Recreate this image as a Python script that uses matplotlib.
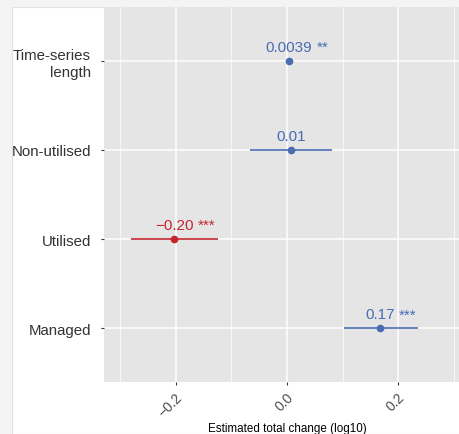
import matplotlib
matplotlib.use("Agg")
import matplotlib.pyplot as plt
import matplotlib.transforms as mtrans
from matplotlib.patches import Rectangle

plt.rcParams['font.family'] = ['Liberation Sans', 'DejaVu Sans']

categories = ["Managed", "Utilised", "Non-utilised", "Time-series\nlength"]
estimates = [0.168, -0.203, 0.007, 0.0039]
ci_low = [0.103, -0.281, -0.067, 0.0030]
ci_high = [0.236, -0.124, 0.081, 0.0048]
value_labels = ["0.17", "\u22120.20", "0.01", "0.0039"]
stars = ["***", "***", "", "**"]
colors = ["#4a6cb3", "#c4262e", "#4a6cb3", "#4a6cb3"]
xticks = [-0.2, 0.0, 0.2]
xticklabels = ["\u22120.2", "0.0", "0.2"]
minor_ticks = [-0.3, -0.1, 0.1, 0.3]

W, H = 460, 435
fig = plt.figure(figsize=(W / 100, H / 100), dpi=100, facecolor="#f4f4f4")
bg = Rectangle((12 / W, 0), 1 - 12 / W, 1 - 8 / H, transform=fig.transFigure,
               facecolor="white", edgecolor="#e2e2e2", linewidth=0.8, zorder=-10)
fig.add_artist(bg)

# panel extends slightly past the right edge (as in the cropped reference)
ax = fig.add_axes([104 / W, (H - 383) / H, (471 - 104) / W, (383 - 8) / H])
ax.set_zorder(5)
ax.set_facecolor("#e5e5e5")
for s in ax.spines.values():
    s.set_visible(False)

ypos = list(range(1, len(categories) + 1))
ax.set_xlim(-0.3297, 0.3315)
ax.set_ylim(0.4, 4.6)

ax.set_xticks(xticks)
ax.set_xticklabels(xticklabels, rotation=45, ha="right", va="top", rotation_mode="anchor",
                   fontsize=10, color="#4d4d4d")
ax.set_xticks(minor_ticks, minor=True)
ax.set_yticks(ypos)
ax.set_yticklabels(categories, fontsize=10.8, color="#333333", multialignment="right",
                   linespacing=1.25)
ax.tick_params(axis="x", which="major", length=2.5, color="#333333", pad=3)
ax.tick_params(axis="x", which="minor", length=0)
ax.tick_params(axis="y", length=2.5, color="#333333", pad=7)
for t in ax.get_xticklabels():
    t.set_transform(t.get_transform() + mtrans.ScaledTranslation(-1 / 100, 0, fig.dpi_scale_trans))

ax.grid(True, which="major", color="white", linewidth=1.1, zorder=1)
ax.grid(True, which="minor", axis="x", color="white", linewidth=0.5, zorder=1)
ax.set_axisbelow(True)

for y, e, lo, hi, lab, st, c in zip(ypos, estimates, ci_low, ci_high, value_labels, stars, colors):
    ax.plot([lo, hi], [y, y], color=c, linewidth=1.2, zorder=3, solid_capstyle="butt")
    ax.plot([e], [y], "o", color=c, markersize=4.5, zorder=4)
    num = ax.annotate(lab, (e, y), xytext=(0, 5), textcoords="offset points",
                      ha="center", va="bottom", fontsize=11, color=c, zorder=5)
    if st:
        ax.annotate(st, xy=(1, 0), xycoords=num, xytext=(3, 0), textcoords="offset points",
                    ha="left", va="bottom", fontsize=11, color=c, zorder=5)

ax.set_xlabel("Estimated total change (log10)", fontsize=8.4, color="black")
ax.xaxis.set_label_coords(0.5, -(423 - 383) / 375)

fig.savefig("out.png", dpi=100, facecolor=fig.get_facecolor())
